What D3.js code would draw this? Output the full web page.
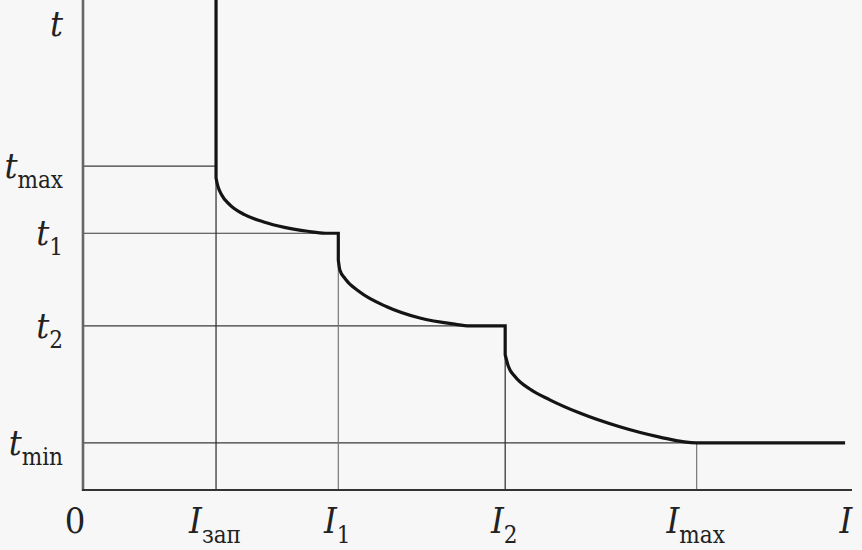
<!DOCTYPE html>
<html>
<head>
<meta charset="utf-8">
<script src="https://cdn.jsdelivr.net/npm/d3@7/dist/d3.min.js"></script>
<style>
  html, body { margin: 0; padding: 0; background: #f7f7f7; }
  svg { display: block; }
</style>
</head>
<body>
<svg id="chart" width="862" height="550"></svg>
<script>
// ---- data (abstract units) ----
const xTickNames = ["зап", "1", "2", "max"];          // subscripts of I
const xTickValues = [1.73, 3.32, 5.49, 7.98];          // I_зап, I1, I2, Imax
const yTickNames = ["max", "1", "2", "min"];           // subscripts of t
const yTickValues = [6.61, 5.24, 3.35, 0.96];          // t_max, t1, t2, t_min

// characteristic t(I)
const curveI = [1.73, 1.73, 1.75, 1.80, 1.91, 2.10, 2.35, 2.62, 2.92, 3.15, 3.32,
                3.32, 3.34, 3.41, 3.60, 3.95, 4.38, 4.81, 5.03, 5.49,
                5.49, 5.53, 5.62, 5.81, 6.07, 6.46, 6.98, 7.50, 7.98, 9.91];
const curveT = [10.0, 6.37, 6.22, 6.03, 5.82, 5.62, 5.47, 5.36, 5.28, 5.24, 5.24,
                4.69, 4.49, 4.31, 4.04, 3.74, 3.51, 3.39, 3.35, 3.35,
                2.76, 2.53, 2.31, 2.06, 1.84, 1.57, 1.29, 1.08, 0.96, 0.96];

const FONT = '"DejaVu Serif Condensed", "DejaVu Serif", serif';

// ---- layout ----
const svg = d3.select("#chart");
const x = d3.scaleLinear().domain([0, 10]).range([83, 852]);
const y = d3.scaleLinear().domain([0, 10]).range([490, 0]);

yTickValues.forEach((tv, i) => {
  svg.append("line")
    .attr("x1", x(0)).attr("x2", x(xTickValues[i]))
    .attr("y1", y(tv)).attr("y2", y(tv))
    .attr("stroke", "#3a3a3a").attr("stroke-width", 1.2);
});
xTickValues.forEach((iv, i) => {
  svg.append("line")
    .attr("x1", x(iv)).attr("x2", x(iv))
    .attr("y1", y(yTickValues[i])).attr("y2", y(0))
    .attr("stroke", i === 0 || i === 2 ? "#2a2a2a" : "#777").attr("stroke-width", 1.2);
});

svg.append("line")
  .attr("x1", x(0)).attr("x2", x(0)).attr("y1", y(10)).attr("y2", y(0) + 1)
  .attr("stroke", "#666").attr("stroke-width", 2.6);
svg.append("line")
  .attr("x1", x(0) - 1).attr("x2", x(10)).attr("y1", y(0)).attr("y2", y(0))
  .attr("stroke", "#333").attr("stroke-width", 2);

const pts = curveI.map((v, i) => [v, curveT[i]]);
const runs = [];
let cur = [pts[0]];
for (let i = 1; i < pts.length; i++) {
  if (pts[i][0] === pts[i - 1][0]) { runs.push(cur); cur = [pts[i]]; }
  else cur.push(pts[i]);
}
runs.push(cur);
const smooth = d3.line().x(d => x(d[0])).y(d => y(d[1])).curve(d3.curveMonotoneX);
let dStr = "";
runs.forEach((r, k) => {
  let s = r.length > 1 ? smooth(r) : `M${x(r[0][0])},${y(r[0][1])}`;
  if (k > 0) s = "L" + s.slice(1);
  dStr += s;
});
svg.append("path")
  .attr("fill", "none")
  .attr("stroke", "#141414")
  .attr("stroke-width", 3.2)
  .attr("stroke-linejoin", "miter")
  .attr("d", dStr);

function label(px, py, main, sub, anchor) {
  const t = svg.append("text")
    .attr("x", px).attr("y", py)
    .attr("text-anchor", anchor || "start")
    .style("font-family", FONT)
    .attr("fill", "#222");
  t.append("tspan").text(main)
    .style("font-family", FONT)
    .attr("font-style", "italic").attr("font-size", 36);
  if (sub) {
    t.append("tspan").text(sub)
      .attr("dy", 10)
      .style("font-family", FONT)
      .attr("font-style", "normal").attr("font-size", 24);
  }
  return t;
}

yTickValues.forEach((tv, i) => {
  label(63, y(tv) + 12, "t", yTickNames[i], "end");
});
label(63, 36, "t", null, "end");

xTickValues.forEach((iv, i) => {
  label(x(iv) - 1, 533, "I", xTickNames[i], "middle");
});
svg.append("text").attr("x", 75).attr("y", 533).attr("text-anchor", "middle")
  .style("font-family", FONT).attr("fill", "#222").attr("font-size", 36).text("0");
label(846, 533, "I", null, "middle");
</script>
</body>
</html>
